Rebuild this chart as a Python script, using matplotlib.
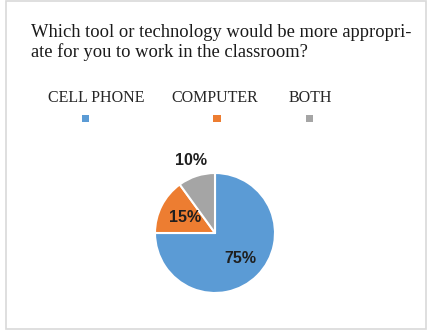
import matplotlib
matplotlib.use("Agg")
import matplotlib.pyplot as plt
from matplotlib.patches import Rectangle
import numpy as np

categories = ["CELL PHONE", "COMPUTER", "BOTH"]
values = [75, 15, 10]
colors = ["#5B9BD5", "#ED7D31", "#A5A5A5"]
title_lines = ["Which tool or technology would be more appropri-",
               "ate for you to work in the classroom?"]

W, H = 431, 336
fig = plt.figure(figsize=(W / 100, H / 100), dpi=100)

# border
fig.patches.append(Rectangle((6 / W, 7 / H), 420 / W, 328 / H, transform=fig.transFigure,
                             fill=False, edgecolor="#D9D9D9", linewidth=1.2))

# title
serif = ["Liberation Serif", "DejaVu Serif"]
fig.text(31 / W, 1 - 37 / H, title_lines[0], family=serif, fontsize=13.3, color="#1a1a1a", va="baseline")
fig.text(31 / W, 1 - 57 / H, title_lines[1], family=serif, fontsize=13.3, color="#1a1a1a", va="baseline")

# legend: text above, marker below
leg_text_x = [96.5, 214.5, 310]
leg_mark_x = [86, 217, 310]
for cat, col, tx, mx in zip(categories, colors, leg_text_x, leg_mark_x):
    fig.text(tx / W, 1 - 102 / H, cat, family=serif, fontsize=11.5, color="#262626",
             ha="center", va="baseline")
    s = 7
    fig.patches.append(Rectangle(((mx - s / 2) / W, 1 - (119 + s / 2) / H), s / W, s / H,
                                 transform=fig.transFigure, facecolor=col, edgecolor="none"))

# pie
cx, cy, r = 215, 233, 60
half = 1.3 * r
ax = fig.add_axes([(cx - half) / W, (H - cy - half) / H, 2 * half / W, 2 * half / H])
wedges, _ = ax.pie(values, colors=colors, startangle=90, counterclock=False,
                   wedgeprops=dict(edgecolor="white", linewidth=1.5))
ax.set_xlim(-1.3, 1.3)
ax.set_ylim(-1.3, 1.3)
ax.set_aspect("equal")

dists = [0.59, 0.56, 1.27]
for w, v, d in zip(wedges, values, dists):
    ang = np.deg2rad((w.theta1 + w.theta2) / 2)
    ax.text(d * np.cos(ang), d * np.sin(ang), f"{v}%", ha="center", va="center",
            family=["Liberation Sans", "DejaVu Sans"], fontweight="bold", fontsize=11.5,
            color="#1f1f1f")

fig.savefig("out.png", dpi=100)
